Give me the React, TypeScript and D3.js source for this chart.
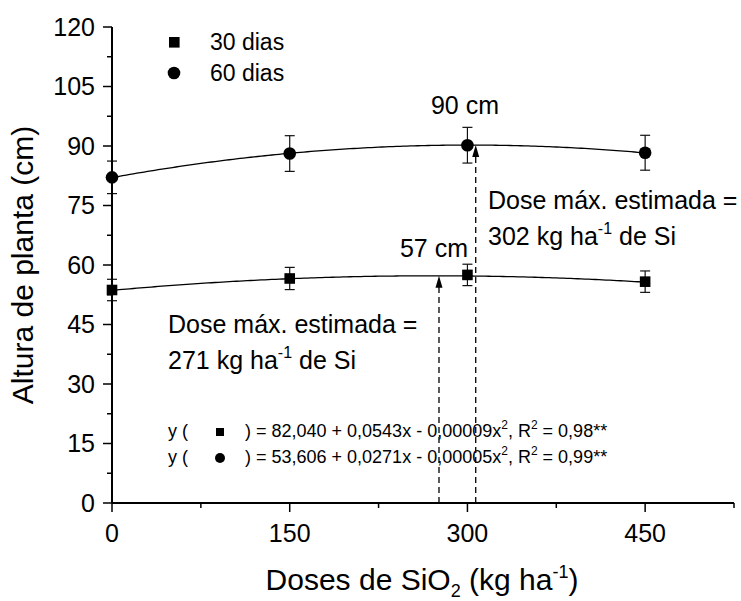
import React from 'react';
import * as d3 from 'd3';

// doses of SiO2 (kg/ha) and plant height (cm)
const doses = [0, 150, 300, 450];
const alt30 = [53.7, 56.6, 57.5, 55.8];
const err30 = [2.7, 2.8, 2.7, 2.7];
const alt60 = [82.1, 88.1, 90.2, 88.3];
const err60 = [4.1, 4.5, 4.5, 4.4];

// regression coefficients (a + b*x + c*x^2) as printed on the chart
const fit30 = [53.606, 0.0271, -0.00005];
const fit60 = [82.04, 0.0543, -0.00009];

// where the dashed arrows sit on the x axis
const doseMax = [276, 307];

const xTicks = [0, 150, 300, 450];
const xMinor = [75, 225, 375, 525];
const yTicks = [0, 15, 30, 45, 60, 75, 90, 105, 120];
const yMinor = [7.5, 22.5, 37.5, 52.5, 67.5, 82.5, 97.5, 112.5];

const font = 'Liberation Sans, Arial, sans-serif';

const poly = (c: number[], v: number) => c[0] + c[1] * v + c[2] * v * v;

const App = () => {
  const x = d3.scaleLinear().domain([0, 525]).range([112, 734]);
  const y = d3.scaleLinear().domain([0, 120]).range([503, 27]);

  const curve = (c: number[]) =>
    d3
      .line<number>()
      .x((d) => x(d))
      .y((d) => y(poly(c, d)))(d3.range(0, 451, 3)) || '';

  const errBars = (vals: number[], errs: number[]) =>
    doses.map((d, i) => (
      <g key={i} stroke="#111" strokeWidth={1.2}>
        <line x1={x(d)} x2={x(d)} y1={y(vals[i] + errs[i])} y2={y(vals[i] - errs[i])} />
        <line x1={x(d) - 5} x2={x(d) + 5} y1={y(vals[i] + errs[i])} y2={y(vals[i] + errs[i])} />
        <line x1={x(d) - 5} x2={x(d) + 5} y1={y(vals[i] - errs[i])} y2={y(vals[i] - errs[i])} />
      </g>
    ));

  const arrows = [
    { dose: doseMax[0], c: fit30 },
    { dose: doseMax[1], c: fit60 },
  ];

  return (
    <svg
      width={741}
      height={601}
      style={{ position: 'absolute', left: 0, top: 0, background: '#fff' }}
      fontFamily={font}
    >
      {/* fitted curves */}
      <path d={curve(fit60)} fill="none" stroke="#000" strokeWidth={1.3} />
      <path d={curve(fit30)} fill="none" stroke="#000" strokeWidth={1.3} />

      {/* dashed arrows to estimated max dose */}
      {arrows.map((a, i) => {
        const tipY = y(poly(a.c, a.dose));
        const px = x(a.dose);
        return (
          <g key={i}>
            <line x1={px} x2={px} y1={y(0)} y2={tipY + 10} stroke="#000" strokeWidth={1.3} strokeDasharray="6,4" />
            <path d={`M${px - 3.5},${tipY + 12} L${px},${tipY} L${px + 3.5},${tipY + 12} Z`} fill="#000" />
          </g>
        );
      })}

      {/* error bars */}
      {errBars(alt60, err60)}
      {errBars(alt30, err30)}

      {/* markers */}
      {doses.map((d, i) => (
        <circle key={'c' + i} cx={x(d)} cy={y(alt60[i])} r={6.3} fill="#000" />
      ))}
      {doses.map((d, i) => (
        <rect key={'s' + i} x={x(d) - 5.3} y={y(alt30[i]) - 5.3} width={10.6} height={10.6} fill="#000" />
      ))}

      {/* axes */}
      <line x1={x(0)} x2={x(0)} y1={y(0)} y2={y(120)} stroke="#000" strokeWidth={2} />
      <line x1={x(0)} x2={x(525)} y1={y(0)} y2={y(0)} stroke="#000" strokeWidth={2} />
      {yTicks.map((t) => (
        <g key={'yt' + t}>
          <line x1={x(0) - 9} x2={x(0)} y1={y(t)} y2={y(t)} stroke="#000" strokeWidth={1.5} />
          <text x={95} y={y(t)} dy="0.35em" textAnchor="end" fontSize={25}>
            {t}
          </text>
        </g>
      ))}
      {yMinor.map((t) => (
        <line key={'ym' + t} x1={x(0) - 5} x2={x(0)} y1={y(t)} y2={y(t)} stroke="#000" strokeWidth={1.5} />
      ))}
      {xTicks.map((t) => (
        <g key={'xt' + t}>
          <line x1={x(t)} x2={x(t)} y1={y(0)} y2={y(0) + 9} stroke="#000" strokeWidth={1.5} />
          <text x={x(t)} y={542} textAnchor="middle" fontSize={25}>
            {t}
          </text>
        </g>
      ))}
      {xMinor.map((t) => (
        <line key={'xm' + t} x1={x(t)} x2={x(t)} y1={y(0)} y2={y(0) + 5} stroke="#000" strokeWidth={1.5} />
      ))}

      {/* axis titles */}
      <text x={422} y={590} textAnchor="middle" fontSize={30}>
        Doses de SiO<tspan dy={7} fontSize={18}>2</tspan>
        <tspan dy={-7}> (kg ha</tspan>
        <tspan dy={-12} fontSize={18}>-1</tspan>
        <tspan dy={12}>)</tspan>
      </text>
      <text transform={`translate(33,${(y(0) + y(120)) / 2}) rotate(-90)`} textAnchor="middle" fontSize={30}>
        Altura de planta (cm)
      </text>

      {/* legend */}
      <rect x={169} y={37} width={10.6} height={10.6} fill="#000" />
      <text x={210} y={50} fontSize={23}>30 dias</text>
      <circle cx={174} cy={73} r={6.3} fill="#000" />
      <text x={210} y={81} fontSize={23}>60 dias</text>

      {/* annotations */}
      <text x={465} y={114} textAnchor="middle" fontSize={25}>90 cm</text>
      <text x={434} y={257} textAnchor="middle" fontSize={25}>57 cm</text>

      <text x={488} y={209} fontSize={25}>Dose máx. estimada =</text>
      <text x={488} y={245} fontSize={25}>
        302 kg ha<tspan dy={-11} fontSize={16}>-1</tspan>
        <tspan dy={11}> de Si</tspan>
      </text>

      <text x={168} y={333} fontSize={25}>Dose máx. estimada =</text>
      <text x={168} y={369} fontSize={25}>
        271 kg ha<tspan dy={-11} fontSize={16}>-1</tspan>
        <tspan dy={11}> de Si</tspan>
      </text>

      {/* equations */}
      <text x={168} y={437} fontSize={18}>y (</text>
      <rect x={216} y={428} width={8} height={8} fill="#000" />
      <text x={245} y={437} fontSize={18}>
        ) = 82,040 + 0,0543x - 0,00009x<tspan dy={-8} fontSize={12}>2</tspan>
        <tspan dy={8}>, R</tspan>
        <tspan dy={-8} fontSize={12}>2</tspan>
        <tspan dy={8}> = 0,98**</tspan>
      </text>
      <text x={168} y={463} fontSize={18}>y (</text>
      <circle cx={220} cy={458} r={5} fill="#000" />
      <text x={245} y={463} fontSize={18}>
        ) = 53,606 + 0,0271x - 0,00005x<tspan dy={-8} fontSize={12}>2</tspan>
        <tspan dy={8}>, R</tspan>
        <tspan dy={-8} fontSize={12}>2</tspan>
        <tspan dy={8}> = 0,99**</tspan>
      </text>
    </svg>
  );
};

export default App;
